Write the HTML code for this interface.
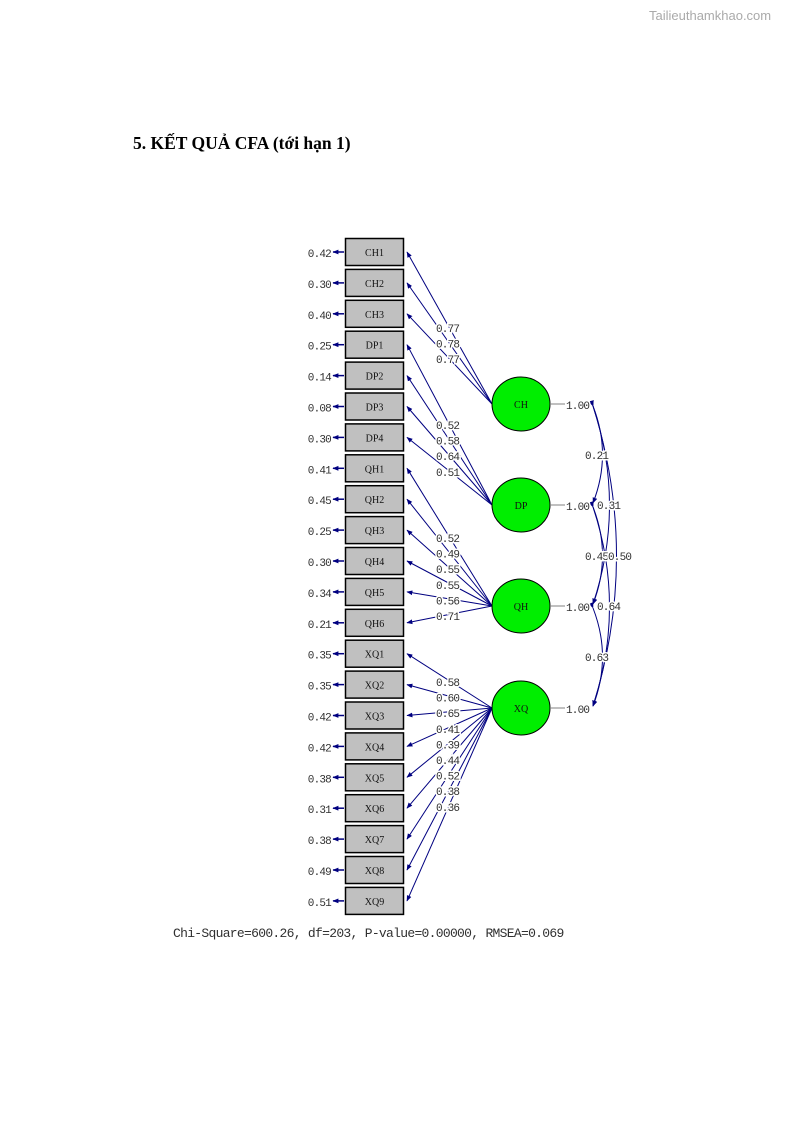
<!DOCTYPE html>
<html><head><meta charset="utf-8"><style>
html,body{margin:0;padding:0;background:#fff;width:795px;height:1123px;overflow:hidden}
svg{display:block}
.m{font-family:"Liberation Mono","DejaVu Sans Mono",monospace;font-size:11px;fill:#303030;letter-spacing:-0.8px}
.lb{font-family:"Liberation Mono",monospace;font-size:11px;fill:#303030;letter-spacing:-0.8px;paint-order:stroke;stroke:#fff;stroke-width:3px}
.bx{font-family:"Liberation Serif",serif;font-size:10px;fill:#111;text-anchor:middle}
</style></head><body>
<svg width="795" height="1123" xmlns="http://www.w3.org/2000/svg">
<defs><marker id="a" viewBox="0 0 10 10" refX="9" refY="5" markerWidth="7" markerHeight="7" orient="auto-start-reverse"><path d="M0,1 L10,5 L0,9 z" fill="#000080"/></marker>
<marker id="b" viewBox="0 0 10 10" refX="9" refY="5" markerUnits="userSpaceOnUse" markerWidth="6" markerHeight="6" orient="auto"><path d="M0,1 L10,5 L0,9 z" fill="#000080"/></marker></defs>
<text x="649" y="20" font-family="Liberation Sans,sans-serif" font-size="13" fill="#aaa">Tailieuthamkhao.com</text>
<text x="133" y="149" font-family="Liberation Serif,serif" font-size="17.5" font-weight="bold" fill="#000">5. KẾT QUẢ CFA (tới hạn 1)</text>
<text id="chi" x="173" y="937" class="m" font-size="13" style="font-size:13px;letter-spacing:-0.7px">Chi-Square=600.26, df=203, P-value=0.00000, RMSEA=0.069</text>
</svg>
<script>
var ns="http://www.w3.org/2000/svg";
var svg=document.querySelector('svg');
function el(t,a,txt){var e=document.createElementNS(ns,t);for(var k in a)e.setAttribute(k,a[k]);if(txt!=null)e.textContent=txt;svg.appendChild(e);return e;}
var names=["CH1","CH2","CH3","DP1","DP2","DP3","DP4","QH1","QH2","QH3","QH4","QH5","QH6","XQ1","XQ2","XQ3","XQ4","XQ5","XQ6","XQ7","XQ8","XQ9"];
var err=["0.42","0.30","0.40","0.25","0.14","0.08","0.30","0.41","0.45","0.25","0.30","0.34","0.21","0.35","0.35","0.42","0.42","0.38","0.31","0.38","0.49","0.51"];
var lat=[["CH",404,0,3,["0.77","0.78","0.77"],328],["DP",505,3,7,["0.52","0.58","0.64","0.51"],425],["QH",606,7,13,["0.52","0.49","0.55","0.55","0.56","0.71"],538],["XQ",708,13,22,["0.58","0.60","0.65","0.41","0.39","0.44","0.52","0.38","0.36"],682]];
function cy(i){return 252+30.9*i;}
lat.forEach(function(L){for(var i=L[2];i<L[3];i++){el('line',{x1:492,y1:L[1],x2:407,y2:cy(i),stroke:'#000080','stroke-width':1,'marker-end':'url(#b)'});}});
for(var i=0;i<22;i++){var c=cy(i);
el('rect',{x:345.5,y:c-13.5,width:58,height:27,fill:'#c0c0c0',stroke:'#000','stroke-width':1.5});
el('text',{x:374.5,y:c+4,'class':'bx'},names[i]);
el('text',{x:331,y:c+5,'class':'m','text-anchor':'end'},err[i]);
el('line',{x1:344,y1:c,x2:333,y2:c,stroke:'#000080','stroke-width':1.5,'marker-end':'url(#b)'});
}
lat.forEach(function(L){L[4].forEach(function(v,k){el('text',{x:436,y:L[5]+k*15.6+4,'class':'lb'},v);});});
var ys=[404,505,606,708];
for(var a=0;a<4;a++)for(var b=a+1;b<4;b++){var d=b-a;var cx=598+d*14;
el('path',{d:'M593,'+(ys[a]+2)+' Q'+cx+','+((ys[a]+ys[b])/2)+' 593,'+(ys[b]-2),fill:'none',stroke:'#000080','stroke-width':1,'marker-start':'url(#b)','marker-end':'url(#b)'});}
lat.forEach(function(L){
el('ellipse',{cx:521,cy:L[1],rx:29,ry:27,fill:'#00ee00',stroke:'#000','stroke-width':1});
el('text',{x:521,y:L[1]+4,'class':'bx','font-size':'11'},L[0]);
el('line',{x1:551,y1:L[1],x2:565,y2:L[1],stroke:'#aaa','stroke-width':1.5});
el('text',{x:566,y:L[1]+5,'class':'lb'},"1.00");
});
[["0.21",585,459],["0.31",597,509],["0.45",585,560],["0.50",608,560],["0.64",597,610],["0.63",585,661]].forEach(function(t){el('text',{x:t[1],y:t[2],'class':'lb'},t[0]);});
</script>
</body></html>
